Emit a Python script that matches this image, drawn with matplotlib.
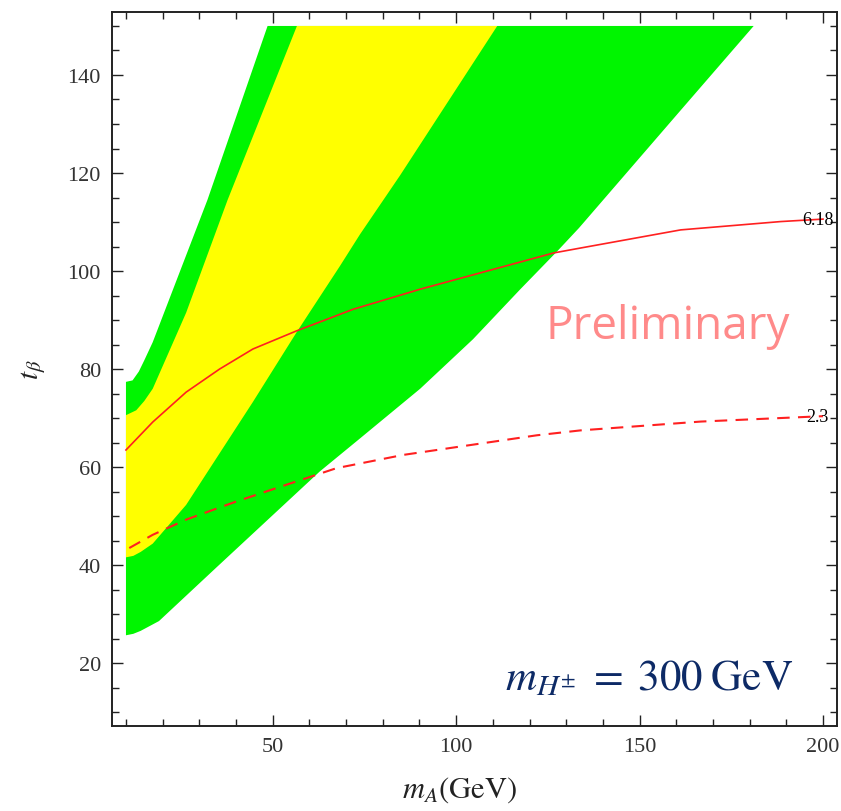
import matplotlib
matplotlib.use("Agg")
import matplotlib.pyplot as plt
from matplotlib.ticker import MultipleLocator

# 2-sigma region (green): lower-right edge and upper-left edge
outer_right_x = [10, 12, 14, 16, 19, 34.6, 62.8, 73.7, 90.2, 104.6, 117.5, 127.5, 133.5, 161.2, 181.1]
outer_right_y = [25.7, 26.0, 26.6, 27.4, 28.6, 39.5, 59.1, 65.8, 76.0, 86.1, 96.3, 104.0, 108.8, 132.8, 150]
outer_left_x = [10, 11.8, 13.5, 15, 17.3, 32.2, 48.6]
outer_left_y = [77.4, 77.7, 79.5, 81.8, 85.5, 114.5, 150]

# 1-sigma region (yellow)
inner_right_x = [10, 12, 14, 17.3, 26.4, 44.6, 56.5, 68.3, 73.8, 84.7, 111.2]
inner_right_y = [41.6, 41.9, 42.7, 44.4, 52.3, 73.3, 87.5, 101.0, 107.5, 119.5, 150]
inner_left_x = [10, 12.8, 15, 17.3, 26.4, 37.7, 56.6]
inner_left_y = [70.6, 71.6, 73.5, 76.0, 91.5, 114.5, 150]

# chi^2 contour lines
solid_x = [10, 17.3, 26.4, 35.5, 44.6, 56.5, 71.9, 90.2, 108.4, 126.6, 133.9, 161.2, 188.5, 200]
solid_y = [63.5, 69.2, 75.3, 80.0, 84.1, 87.8, 92.2, 96.3, 100.0, 103.7, 104.7, 108.4, 110.1, 110.6]
dashed_x = [10.9, 17.3, 26.4, 40.1, 53.7, 67.4, 85.6, 103.8, 122.0, 133.9, 166.7, 200]
dashed_y = [43.5, 46.2, 49.3, 53.0, 56.4, 59.8, 62.5, 64.5, 66.5, 67.5, 69.3, 70.4]
solid_label = "6.18"
dashed_label = "2.3"

plt.rcParams["mathtext.fontset"] = "stix"
plt.rcParams["font.family"] = "Liberation Serif"

fig = plt.figure(figsize=(8.41, 8.12), dpi=100)
ax = fig.add_axes([0.1332, 0.1047, 0.862, 0.879])

# polygons: right edge going up, then left edge coming down, closed along x = 10
poly_x = outer_right_x + outer_left_x[::-1]
poly_y = outer_right_y + outer_left_y[::-1]
ax.fill(poly_x, poly_y, color="#00F500", lw=0)
poly_x = inner_right_x + inner_left_x[::-1]
poly_y = inner_right_y + inner_left_y[::-1]
ax.fill(poly_x, poly_y, color="#FFFF00", lw=0)

ax.plot(solid_x, solid_y, color="#FF2020", lw=1.2)
ax.plot(dashed_x, dashed_y, color="#FF2020", lw=1.5, dashes=(6, 4))
ax.text(solid_x[-1] - 1.5, solid_y[-1], solid_label, fontsize=13, ha="center", va="center")
ax.text(dashed_x[-1] - 1.5, dashed_y[-1], dashed_label, fontsize=13, ha="center", va="center")

ax.text(0.766, 0.56, "Preliminary", transform=ax.transAxes, fontsize=33,
        color="#FF8A8A", ha="center", va="center", family="Open Sans")
ax.text(0.94, 0.052, r"$m_{H^{\pm}}\;=\;300\;\mathrm{GeV}$", transform=ax.transAxes,
        fontsize=31, color="#0D2A66", ha="right", va="baseline")

ax.set_xlim(6.2, 203.8)
ax.set_ylim(7.2, 152.8)
ax.xaxis.set_minor_locator(MultipleLocator(10))
ax.yaxis.set_minor_locator(MultipleLocator(5))
ax.set_xticks([50, 100, 150, 200])
ax.set_yticks([20, 40, 60, 80, 100, 120, 140])
ax.tick_params(which="both", direction="in", top=True, right=True, color="#222222",
               labelsize=16, labelcolor="#333333", width=1)
ax.tick_params(which="major", length=8, pad=8)
ax.tick_params(which="minor", length=5)
for s in ax.spines.values():
    s.set_linewidth(1.4)
    s.set_color("#222222")

ax.set_xlabel(r"$m_A(\mathrm{GeV})$", fontsize=22, color="#222222")
ax.xaxis.set_label_coords(0.479, -0.068)
ax.set_ylabel(r"$t_\beta$", fontsize=21, labelpad=14, color="#222222")

fig.savefig("out.png", dpi=100)
